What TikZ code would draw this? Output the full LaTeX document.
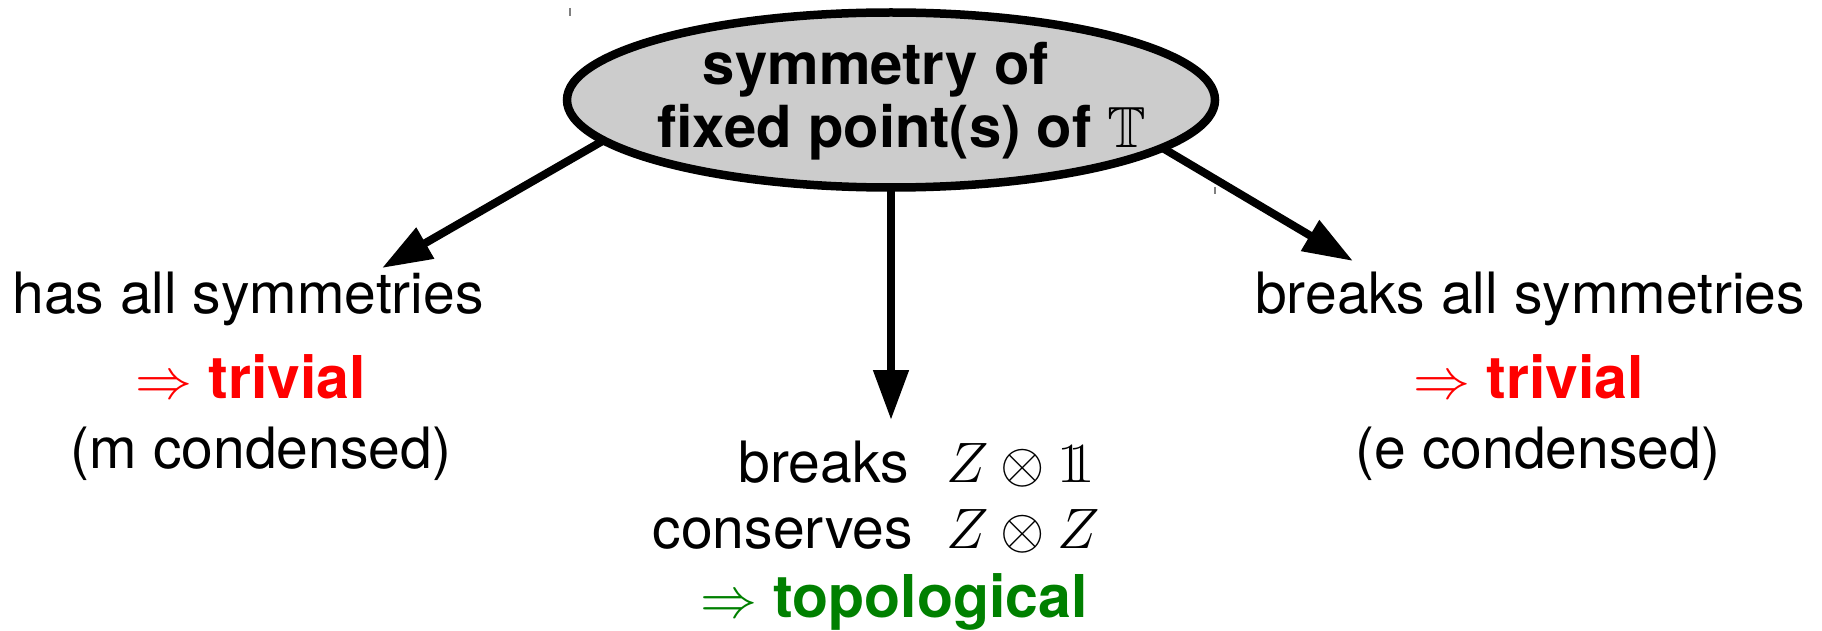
\documentclass[tikz,border=0pt]{standalone}
\usepackage{fix-cm}
\usepackage{amssymb}
\usepackage{fontspec}
\setmainfont{TeX Gyre Heros}
\usetikzlibrary{shapes.geometric,arrows.meta}
\definecolor{ellgray}{HTML}{CCCCCC}
\definecolor{topgreen}{HTML}{008000}
\definecolor{trivred}{HTML}{FF0000}
\newcommand\dsone{\mbox{\usefont{OT1}{cmr}{m}{n}\makebox[0pt][l]{1}\kern0.2em 1}}
\newcommand\bigbold{\fontsize{59}{63}\selectfont\bfseries}
\newcommand\ellbold{\fontsize{58}{63}\selectfont\bfseries}
\tikzset{
  txt/.style={inner sep=0pt, outer sep=0pt, anchor=base, font=\fontsize{57}{63}\selectfont},
  boldtxt/.style={txt, font=\ellbold},
  bigarrow/.style={line width=8pt, -{Triangle[length=50pt,width=34pt]}},
  centralnode/.style={ellipse, draw, line width=8.5pt, fill=ellgray, minimum width=648pt, minimum height=175pt, inner sep=0pt, outer sep=0pt},
  tickmark/.style={draw=gray, line width=1.2pt}
}
\begin{document}
\begin{tikzpicture}[x=1pt,y=-1pt]
\useasboundingbox (0,0) rectangle (1822,631);
% central ellipse
\node[centralnode] (e) at (891,100) {};
\node[boldtxt] (etop) at (876,85) {symmetry of};
\node[boldtxt] (ebot) at (902,148) {fixed point(s) of $\mathbb{T}$};
% small tick marks
\draw[tickmark] (570,8) -- (570,16);
\draw[tickmark] (1215,187) -- (1215,194);
% left branch
\node[txt] (l1) at (248,313) {has all symmetries};
\node[txt, text=trivred] (l2) at (251,398) {$\Rightarrow$ {\bigbold trivial}};
\node[txt] (l3) at (261,468) {(m condensed)};
% right branch
\node[txt] (r1) at (1530,313) {breaks all symmetries};
\node[txt, text=trivred] (r2) at (1529,398) {$\Rightarrow$ {\bigbold trivial}};
\node[txt] (r3) at (1538,468) {(e condensed)};
% middle branch
\node[txt, anchor=base east] (m1a) at (909,482) {breaks};
\node[txt, anchor=base west] (m1b) at (946,482) {$Z\otimes\dsone$};
\node[txt, anchor=base east] (m2a) at (913,548) {conserves};
\node[txt, anchor=base west] (m2b) at (946,548) {$Z\otimes Z$};
\node[txt, text=topgreen] (m3) at (894,617) {$\Rightarrow$ {\bigbold topological}};
% arrow tips
\coordinate (tl) at (382,268);
\coordinate (tm) at (891,420);
\coordinate (tr) at (1353,261);
\draw[bigarrow] (e.188) -- (tl);
\draw[bigarrow] (e.south) -- (tm);
\draw[bigarrow] (e.350) -- (tr);
\end{tikzpicture}
\end{document}
